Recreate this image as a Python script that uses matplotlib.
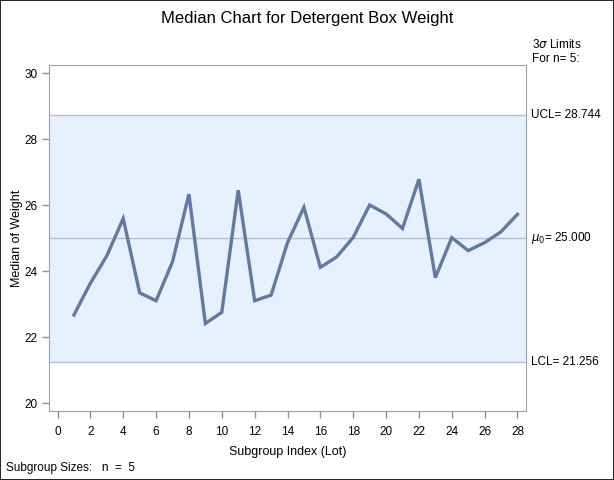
import matplotlib
matplotlib.use("Agg")
import matplotlib.pyplot as plt
from matplotlib.patches import Rectangle

# datos
lotes = list(range(1, 29))
medianas = [22.68, 23.64, 24.47, 25.60, 23.35, 23.11, 24.29, 26.34, 22.42, 22.76,
            26.46, 23.11, 23.28, 24.87, 25.94, 24.12, 24.44, 25.03, 26.01, 25.74,
            25.30, 26.79, 23.81, 25.02, 24.63, 24.87, 25.20, 25.73]
ucl = 28.744
media = 25.000
lcl = 21.256
xticks = list(range(0, 29, 2))
yticks = [20, 22, 24, 26, 28, 30]

plt.rcParams['font.family'] = ['Liberation Sans', 'DejaVu Sans']

fig = plt.figure(figsize=(6.14, 4.8), dpi=100)
ax = fig.add_axes([49.3 / 614, 1 - 410.7 / 480, (525.7 - 49.3) / 614, (410.7 - 65) / 480])

ax.set_xlim(-0.5, 28.5)
ax.set_ylim(19.78, 30.25)

# banda de control
ax.axhspan(lcl, ucl, color='#E6F0FF', zorder=0, lw=0)
for y in (lcl, media, ucl):
    ax.axhline(y, color='#B4BED2', lw=1, zorder=1)

ax.plot(lotes, medianas, color='#6479A2', lw=2.4, zorder=3, solid_joinstyle='miter')

ax.set_xticks(xticks)
ax.set_yticks(yticks)
ax.tick_params(colors='#909090', labelcolor='black', labelsize=8.5, length=5, width=1)
ax.tick_params(axis='x', pad=6)
for s in ax.spines.values():
    s.set_color('#A0A0A0')

ax.set_xlabel("Subgroup Index (Lot)", fontsize=9, labelpad=6)
ax.set_ylabel("Median of Weight", fontsize=9, labelpad=1)

fig.text(0.5, 1 - 18 / 480, "Median Chart for Detergent Box Weight",
         ha='center', va='center', fontsize=12)

# textos a la derecha
xr = 532 / 614
fig.text(xr, 1 - 45 / 480, r"3$\sigma$ Limits", va='center', fontsize=8.5)
fig.text(xr, 1 - 59 / 480, "For n= 5:", va='center', fontsize=8.5)
ax.text(1.012, ucl, "UCL= 28.744", transform=ax.get_yaxis_transform(), va='center', fontsize=8.5)
ax.text(1.012, media, r"$\mu_0$= 25.000", transform=ax.get_yaxis_transform(), va='center', fontsize=8.5)
ax.text(1.012, lcl, "LCL= 21.256", transform=ax.get_yaxis_transform(), va='center', fontsize=8.5)

fig.text(6 / 614, 1 - 468 / 480, "Subgroup Sizes:   n  =  5", va='center', fontsize=8.5)

fig.patches.append(Rectangle((0.0008, 0.001), 0.9984, 0.998, transform=fig.transFigure,
                             fill=False, edgecolor='black', lw=1.2))

fig.savefig("out.png", dpi=100)
